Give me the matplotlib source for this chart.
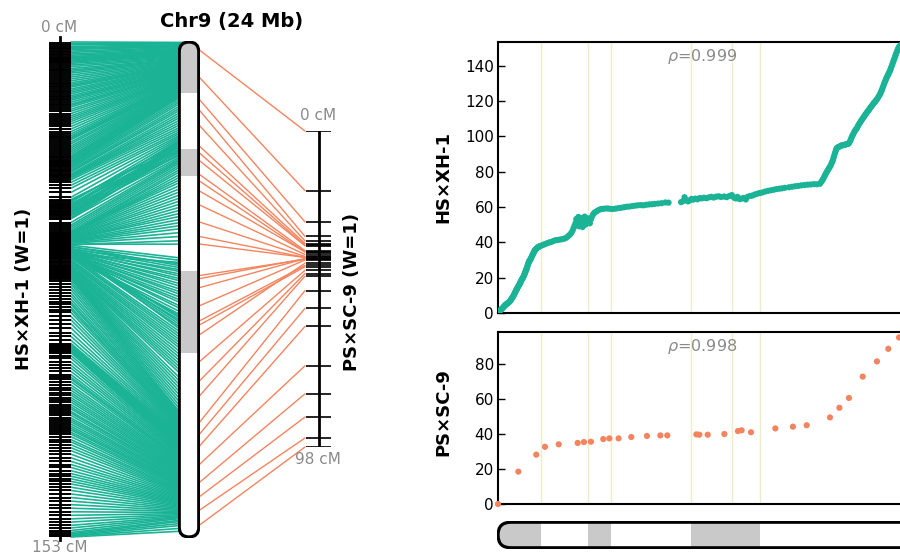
import matplotlib
matplotlib.use("Agg")
import matplotlib.pyplot as plt
from matplotlib.patches import FancyBboxPatch, Rectangle, ConnectionPatch

# physical position (Mb) vs genetic position (cM), HSxXH-1 markers
hs_mb = [0.02, 0.05, 0.08, 0.12, 0.15, 0.19, 0.22, 0.26, 0.30, 0.34, 0.38, 0.42, 0.45, 0.49,
         0.52, 0.56, 0.60, 0.64, 0.68, 0.72, 0.75, 0.79, 0.82, 0.85, 0.88, 0.91, 0.94, 0.97,
         1.00, 1.03, 1.05, 1.08, 1.10, 1.13, 1.16, 1.19, 1.22, 1.25, 1.27, 1.30, 1.32, 1.35,
         1.38, 1.41, 1.44, 1.47, 1.50, 1.53, 1.55, 1.58, 1.60, 1.63, 1.65, 1.68, 1.70, 1.73,
         1.75, 1.78, 1.80, 1.83, 1.86, 1.89, 1.92, 1.95, 1.98, 2.01, 2.04, 2.07, 2.10, 2.13,
         2.16, 2.20, 2.24, 2.28, 2.32, 2.37, 2.42, 2.52, 2.62, 2.72,
         2.84, 2.95, 3.06, 3.18, 3.30, 3.42, 3.55, 3.68, 3.80, 3.92, 4.02, 4.12, 4.20, 4.28,
         4.34, 4.40, 4.46, 4.50, 4.54, 4.58, 4.62, 4.66, 4.70, 4.74, 4.78, 4.82, 4.86, 4.90,
         4.94, 4.98, 5.02, 5.06, 5.10, 5.16, 5.22, 5.28, 5.34, 5.40, 5.46, 5.52, 5.60, 5.70,
         5.80, 5.92, 6.04, 6.18, 6.32, 6.46, 6.60, 6.76, 6.92, 7.08, 7.24, 7.40, 7.56, 7.72,
         7.88, 8.04, 8.20, 8.36, 8.52, 8.68, 8.84, 9.00, 9.20, 9.40, 9.62, 9.80,
         10.52, 10.64, 10.72, 10.82, 10.92, 11.02, 11.12, 11.22, 11.34, 11.46, 11.58, 11.70,
         11.84, 11.98, 12.12, 12.26, 12.40, 12.54, 12.68, 12.82, 13.00, 13.14, 13.30, 13.44,
         13.56, 13.66, 13.76, 13.88, 14.00, 14.12, 14.24, 14.36, 14.50, 14.64, 14.78, 14.92,
         15.06, 15.20, 15.36, 15.52, 15.68, 15.84, 16.00, 16.16, 16.32, 16.48, 16.72, 16.90,
         17.08, 17.26, 17.44, 17.62, 17.80, 17.98, 18.16, 18.34,
         18.50, 18.56, 18.62, 18.67, 18.72, 18.77, 18.82, 18.87, 18.92, 18.97, 19.02, 19.07,
         19.12, 19.17, 19.22, 19.26, 19.30, 19.34, 19.38, 19.42, 19.46, 19.51, 19.56, 19.62,
         19.68, 19.74, 19.80, 19.86, 19.92, 19.98, 20.04, 20.10, 20.16, 20.21, 20.26, 20.30,
         20.34, 20.39, 20.44, 20.49, 20.54, 20.59, 20.64, 20.69, 20.74, 20.79, 20.84, 20.89,
         20.94, 20.99, 21.04, 21.09, 21.14, 21.19, 21.24, 21.29, 21.34, 21.39, 21.44, 21.49,
         21.54, 21.59, 21.64, 21.69, 21.74, 21.79, 21.84, 21.89, 21.94, 21.98, 22.02, 22.06,
         22.10, 22.14, 22.18, 22.22, 22.26, 22.30, 22.34, 22.38, 22.42, 22.46, 22.50, 22.54,
         22.58, 22.62, 22.66, 22.70, 22.74, 22.78, 22.82, 22.86, 22.90, 22.94, 22.98, 23.02,
         23.06, 23.14, 23.20, 23.30, 23.40, 23.55, 23.70]
hs_cm = [0.0, 0.5, 0.9, 1.4, 1.8, 2.0, 2.3, 2.8, 3.2, 3.7, 4.1, 4.5, 4.8, 5.0,
         5.3, 5.6, 5.9, 6.2, 6.6, 7.1, 7.6, 8.2, 8.7, 9.1, 9.6, 10.2, 10.8, 11.4,
         12.0, 12.6, 13.1, 13.5, 13.9, 14.5, 15.0, 15.5, 16.0, 16.6, 17.1, 17.5, 18.0, 18.6,
         19.2, 19.6, 20.1, 20.8, 21.4, 22.1, 22.8, 23.4, 24.0, 24.6, 25.3, 26.1, 26.9, 27.7,
         28.4, 29.0, 29.5, 29.8, 30.2, 30.9, 31.5, 32.2, 32.8, 33.4, 34.0, 34.6, 35.2, 35.6,
         36.0, 36.4, 36.8, 37.1, 37.4, 37.7, 37.9, 38.3, 38.7, 39.1,
         39.6, 40.0, 40.2, 40.8, 41.2, 41.3, 41.6, 41.8, 42.1, 42.6, 43.4, 44.3, 45.2, 46.5,
         48.0, 49.5, 51.0, 53.2, 50.2, 52.6, 54.4, 49.1, 51.7, 53.8, 50.6, 52.1, 48.7, 53.0,
         51.2, 54.6, 50.0, 52.8, 51.4, 53.6, 52.3, 50.8, 53.1, 54.6, 55.8, 56.6, 57.2, 57.8,
         58.4, 58.9, 59.0, 59.2, 59.2, 59.0, 58.9, 59.1, 59.4, 59.6, 59.9, 60.2, 60.3, 60.6,
         60.8, 61.0, 61.1, 61.0, 61.3, 61.5, 61.6, 61.8, 62.0, 62.2, 62.6, 62.5,
         62.8, 63.4, 65.6, 64.0, 63.2, 63.8, 64.6, 64.2, 64.8, 64.4, 65.1, 64.9,
         65.3, 65.0, 65.5, 65.8, 65.4, 65.9, 66.1, 65.7, 66.0, 65.6, 66.3, 66.8,
         65.4, 64.9, 65.8, 64.5, 64.8, 65.2, 64.3, 65.9, 66.3, 66.6, 67.2, 67.6,
         68.0, 68.3, 68.8, 69.2, 69.5, 69.8, 70.2, 70.4, 70.6, 70.9, 71.2, 71.5,
         71.8, 72.0, 72.3, 72.5, 72.7, 72.8, 73.0, 72.9,
         73.2, 74.0, 74.8, 75.7, 76.6, 77.6, 78.5, 79.5, 80.4, 81.1, 82.0, 82.7,
         83.6, 84.8, 85.9, 87.1, 88.4, 89.8, 91.0, 92.2, 93.2, 93.7, 94.0, 94.2,
         94.6, 94.9, 95.0, 95.1, 95.3, 95.5, 95.6, 95.8, 96.0, 96.9, 97.8, 98.9,
         99.9, 100.8, 101.8, 102.8, 103.6, 104.2, 105.0, 106.0, 106.8, 107.6, 108.4, 109.1,
         109.9, 110.6, 111.3, 112.1, 112.8, 113.4, 114.2, 114.7, 115.4, 116.2, 116.8, 117.4,
         118.1, 118.8, 119.4, 119.9, 120.6, 121.2, 122.0, 122.9, 123.6, 124.5, 125.4, 126.3,
         127.4, 128.5, 129.6, 130.6, 131.5, 132.5, 133.4, 134.2, 135.0, 135.8, 136.6, 137.6,
         138.6, 139.7, 140.8, 141.9, 143.0, 144.1, 145.2, 146.3, 147.4, 148.4, 149.4, 150.2,
         151.0, 151.6, 152.0, 152.3, 152.6, 152.8, 153.0]

# PSxSC-9 markers
ps_mb = [0.0, 1.17, 2.20, 2.70, 3.49, 4.58, 4.94, 5.34, 6.05, 6.40, 6.93, 7.66, 8.56, 9.33,
         9.73, 11.40, 11.57, 12.05, 13.01, 13.79, 14.00, 14.54, 15.94, 16.95, 17.74, 19.08,
         19.62, 20.17, 20.96, 21.78, 22.43, 23.05, 23.80]
ps_cm = [0.0, 18.5, 28.2, 32.7, 34.1, 34.9, 35.4, 35.6, 37.1, 37.5, 37.5, 38.3, 38.9, 39.2,
         39.2, 39.8, 39.6, 39.6, 40.0, 41.7, 42.1, 41.0, 43.2, 44.2, 45.0, 49.5,
         55.0, 60.6, 72.8, 81.5, 88.7, 95.2, 98.0]

chr_len = 24.0
hs_len = 153
ps_len = 98
grey_bands = [(0.0, 2.47), (5.17, 6.49), (11.09, 15.06)]
band_edges = [2.47, 5.17, 6.49, 11.09, 13.45, 15.06]
rho_hs = "0.999"
rho_ps = "0.998"

teal = "#1bb396"
orange = "#f4845f"
grey_txt = "#8a8a8a"
band_col = "#c9c9c9"
bold = dict(family="DejaVu Sans", weight="bold")

W, H = 900, 559
fig = plt.figure(figsize=(W / 100, H / 100), dpi=100)


def px_axes(x0, y0, x1, y1):
    return fig.add_axes([x0 / W, 1 - y1 / H, (x1 - x0) / W, (y1 - y0) / H])


def px_text(x, y, s, **kw):
    fig.text(x / W, 1 - y / H, s, ha="center", va="center", **kw)


# ---- left: HSxXH-1 map
ax_hs = px_axes(49, 42, 71, 537)
ax_hs.set_xlim(0, 1)
ax_hs.set_ylim(hs_len, 0)
ax_hs.axis("off")
ax_hs.hlines(hs_cm, 0, 1, color="black", lw=1.4)
ax_hs.plot([0.5, 0.5], [-1.5, hs_len + 1], color="black", lw=2, clip_on=False)

# ---- chromosome (vertical)
ax_chr = px_axes(178, 41, 200, 538)
m = 0.05
span_x = 22 / 497 * (chr_len + 2 * m)
ax_chr.set_xlim(-span_x / 2, span_x / 2)
ax_chr.set_ylim(chr_len + m, -m)
ax_chr.axis("off")
r = span_x / 2 - 0.06
body = FancyBboxPatch((-r, 0), 2 * r, chr_len, boxstyle=f"round,pad=0,rounding_size={r}",
                      facecolor="white", edgecolor="none")
ax_chr.add_patch(body)
for s, e in grey_bands:
    b = Rectangle((-r, s), 2 * r, e - s, facecolor=band_col, edgecolor="none")
    ax_chr.add_patch(b)
    b.set_clip_path(body)
ax_chr.add_patch(FancyBboxPatch((-r, 0), 2 * r, chr_len, boxstyle=f"round,pad=0,rounding_size={r}",
                                facecolor="none", edgecolor="black", lw=2.3))

# ---- PSxSC-9 map
ax_ps = px_axes(305, 131, 331, 447)
ax_ps.set_xlim(0, 1)
ax_ps.set_ylim(ps_len, 0)
ax_ps.axis("off")
ax_ps.hlines(ps_cm, 0.05, 1, color="black", lw=1.2)
ax_ps.plot([0.52, 0.52], [0, ps_len], color="black", lw=2)

# connecting lines
for mb, cm in zip(hs_mb, hs_cm):
    fig.add_artist(ConnectionPatch(xyA=(1, cm), coordsA=ax_hs.transData,
                                   xyB=(0, mb), coordsB=ax_chr.transData,
                                   color=teal, lw=1.2, zorder=-1))
for mb, cm in zip(ps_mb, ps_cm):
    fig.add_artist(ConnectionPatch(xyA=(0, mb), coordsA=ax_chr.transData,
                                   xyB=(0, cm), coordsB=ax_ps.transData,
                                   color=orange, lw=1.0, zorder=-1))

px_text(59, 27, "0 cM", color=grey_txt, fontsize=11)
px_text(60, 548, f"{hs_len} cM", color=grey_txt, fontsize=11)
px_text(318, 116, "0 cM", color=grey_txt, fontsize=11)
px_text(318, 460, f"{ps_len} cM", color=grey_txt, fontsize=11)
px_text(232, 22, "Chr9 (24 Mb)", fontsize=14, **bold)
px_text(24, 289, "HS×XH-1 (W=1)", fontsize=13, rotation=90, **bold)
px_text(352, 292, "PS×SC-9 (W=1)", fontsize=13, rotation=90, **bold)

# ---- right: scatter panels
x_right = 498 + chr_len * 17.4


def style(ax, ymax, ticks):
    ax.set_xlim(0, chr_len)
    ax.set_ylim(0, ymax)
    ax.set_xticks([])
    ax.set_yticks(ticks)
    ax.tick_params(axis="y", direction="in", length=5, width=1, pad=3, labelsize=11)
    for sp in ax.spines.values():
        sp.set_linewidth(1.5)
    for e in band_edges:
        ax.axvline(e, color="#efedc9", lw=1, zorder=0)


ax1 = px_axes(498, 42, x_right, 313)
style(ax1, 153.5, range(0, 141, 20))
ax1.scatter(hs_mb, hs_cm, s=20, color=teal, edgecolors="none", zorder=3)
px_text(702, 57, r"$\rho$=" + rho_hs, color=grey_txt, fontsize=11.5)
px_text(443, 177, "HS×XH-1", fontsize=13, rotation=90, **bold)

ax2 = px_axes(498, 332, x_right, 504)
style(ax2, 98.3, range(0, 81, 20))
ax2.scatter(ps_mb, ps_cm, s=20, color=orange, edgecolors="none", zorder=3, clip_on=False)
px_text(702, 347, r"$\rho$=" + rho_ps, color=grey_txt, fontsize=11.5)
px_text(443, 412, "PS×SC-9", fontsize=13, rotation=90, **bold)

# ---- horizontal chromosome
ax_id = px_axes(497, 521, x_right + 1, 549)
span_y = 28 / 17.4
ax_id.set_xlim(-0.06, chr_len + 0.06)
ax_id.set_ylim(-span_y / 2, span_y / 2)
ax_id.axis("off")
rr = span_y / 2 - 0.07
hbody = FancyBboxPatch((0, -rr), chr_len, 2 * rr, boxstyle=f"round,pad=0,rounding_size={rr}",
                       facecolor="white", edgecolor="none")
ax_id.add_patch(hbody)
for s, e in grey_bands:
    b = Rectangle((s, -rr), e - s, 2 * rr, facecolor=band_col, edgecolor="none")
    ax_id.add_patch(b)
    b.set_clip_path(hbody)
ax_id.add_patch(FancyBboxPatch((0, -rr), chr_len, 2 * rr, boxstyle=f"round,pad=0,rounding_size={rr}",
                               facecolor="none", edgecolor="black", lw=2.3))

fig.savefig("out.png", dpi=100)
